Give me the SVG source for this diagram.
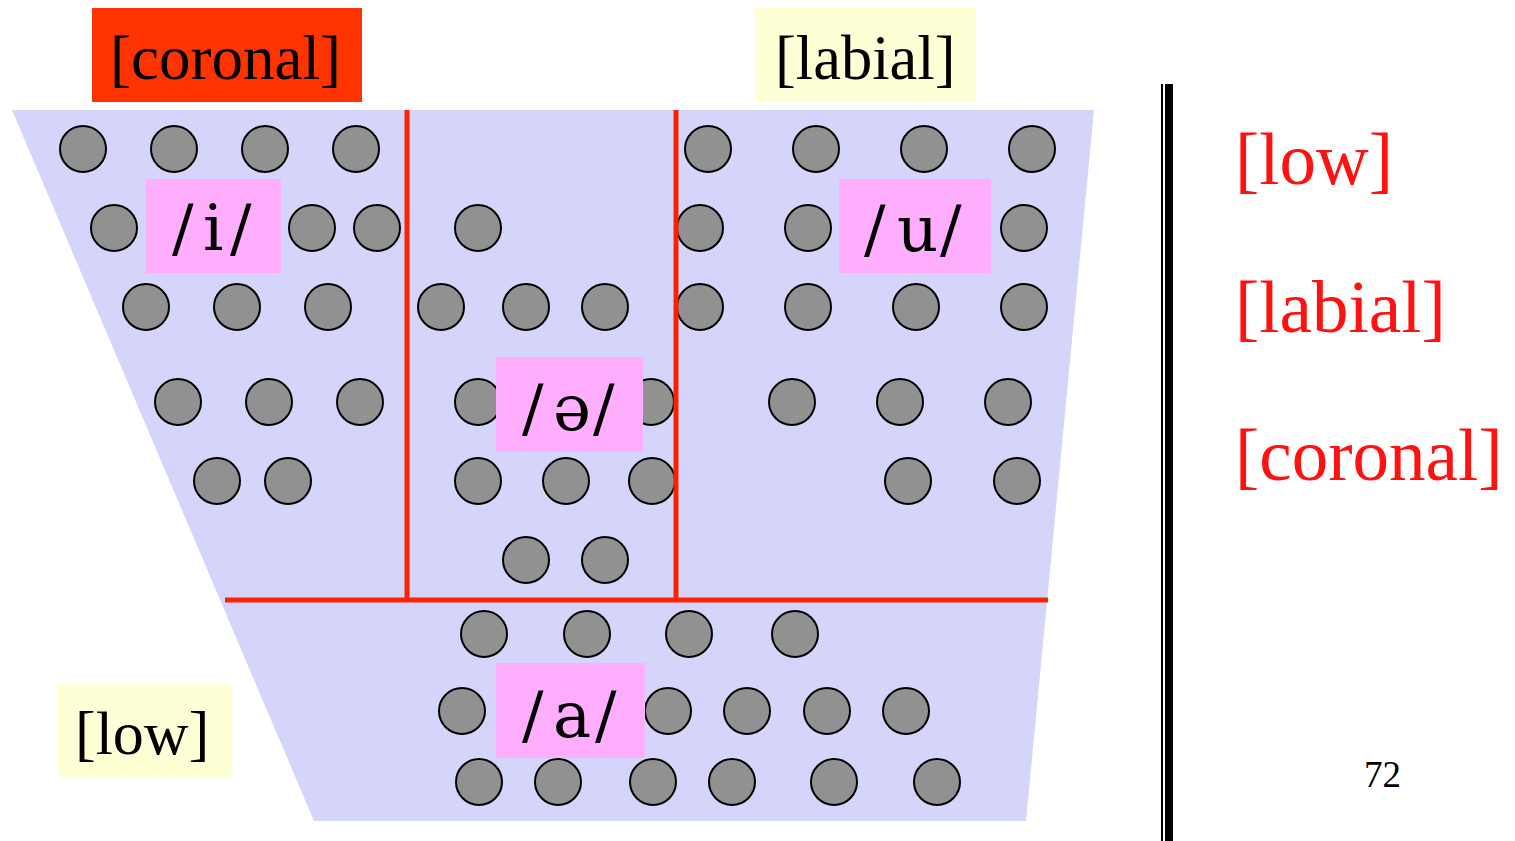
<svg xmlns="http://www.w3.org/2000/svg" width="1515" height="841" viewBox="0 0 1515 841">
<style>
.dot{fill:#919191;stroke:#000;stroke-width:2}
.lbl{font-family:"Liberation Serif","Times New Roman",serif;fill:#000}
.feat{font-family:"Liberation Serif","Times New Roman",serif;fill:#ff1111;font-size:73px}
.ipa{font-family:"DejaVu Serif","Liberation Serif",serif;font-size:64px;fill:#000}
.pink{fill:#ffaefe}
.yel{fill:#ffffd6}
.red{stroke:#ff2200;stroke-width:5;fill:none}
</style>
<rect width="1515" height="841" fill="#fff"/>
<g id="space">
<polygon points="12,110 1094,110 1026,821 314,821" fill="#d5d5fc"/>
</g>
<g id="dots">
<circle class="dot" cx="83" cy="149" r="23"/>
<circle class="dot" cx="174" cy="149" r="23"/>
<circle class="dot" cx="265" cy="149" r="23"/>
<circle class="dot" cx="356" cy="149" r="23"/>
<circle class="dot" cx="708" cy="149" r="23"/>
<circle class="dot" cx="816" cy="149" r="23"/>
<circle class="dot" cx="924" cy="149" r="23"/>
<circle class="dot" cx="1032" cy="149" r="23"/>
<circle class="dot" cx="114" cy="228" r="23"/>
<circle class="dot" cx="312" cy="228" r="23"/>
<circle class="dot" cx="377" cy="228" r="23"/>
<circle class="dot" cx="478" cy="228" r="23"/>
<circle class="dot" cx="700" cy="228" r="23"/>
<circle class="dot" cx="808" cy="228" r="23"/>
<circle class="dot" cx="1024" cy="228" r="23"/>
<circle class="dot" cx="146" cy="307" r="23"/>
<circle class="dot" cx="237" cy="307" r="23"/>
<circle class="dot" cx="328" cy="307" r="23"/>
<circle class="dot" cx="441" cy="307" r="23"/>
<circle class="dot" cx="526" cy="307" r="23"/>
<circle class="dot" cx="605" cy="307" r="23"/>
<circle class="dot" cx="700" cy="307" r="23"/>
<circle class="dot" cx="808" cy="307" r="23"/>
<circle class="dot" cx="916" cy="307" r="23"/>
<circle class="dot" cx="1024" cy="307" r="23"/>
<circle class="dot" cx="178" cy="402" r="23"/>
<circle class="dot" cx="269" cy="402" r="23"/>
<circle class="dot" cx="360" cy="402" r="23"/>
<circle class="dot" cx="478" cy="402" r="23"/>
<circle class="dot" cx="651" cy="402" r="23"/>
<circle class="dot" cx="792" cy="402" r="23"/>
<circle class="dot" cx="900" cy="402" r="23"/>
<circle class="dot" cx="1008" cy="402" r="23"/>
<circle class="dot" cx="217" cy="481" r="23"/>
<circle class="dot" cx="288" cy="481" r="23"/>
<circle class="dot" cx="478" cy="481" r="23"/>
<circle class="dot" cx="566" cy="481" r="23"/>
<circle class="dot" cx="652" cy="481" r="23"/>
<circle class="dot" cx="908" cy="481" r="23"/>
<circle class="dot" cx="1017" cy="481" r="23"/>
<circle class="dot" cx="526" cy="560" r="23"/>
<circle class="dot" cx="605" cy="560" r="23"/>
<circle class="dot" cx="484" cy="634" r="23"/>
<circle class="dot" cx="587" cy="634" r="23"/>
<circle class="dot" cx="689" cy="634" r="23"/>
<circle class="dot" cx="795" cy="634" r="23"/>
<circle class="dot" cx="462" cy="711" r="23"/>
<circle class="dot" cx="668" cy="711" r="23"/>
<circle class="dot" cx="747" cy="711" r="23"/>
<circle class="dot" cx="827" cy="711" r="23"/>
<circle class="dot" cx="906" cy="711" r="23"/>
<circle class="dot" cx="479" cy="782" r="23"/>
<circle class="dot" cx="558" cy="782" r="23"/>
<circle class="dot" cx="653" cy="782" r="23"/>
<circle class="dot" cx="732" cy="782" r="23"/>
<circle class="dot" cx="834" cy="782" r="23"/>
<circle class="dot" cx="937" cy="782" r="23"/>
</g>
<g id="dividers">
<line class="red" x1="407" y1="110" x2="407" y2="600"/>
<line class="red" x1="676" y1="110" x2="676" y2="600"/>
<line class="red" x1="225" y1="600" x2="1048" y2="600"/>
</g>
<g id="vowel-i">
<rect class="pink" x="146" y="179" width="135" height="94"/>
<text class="ipa" x="172 203 230" y="250">/i/</text>
</g>
<g id="vowel-u">
<rect class="pink" x="839" y="179" width="152" height="94"/>
<text class="ipa" x="864 897 940" y="251">/u/</text>
</g>
<g id="vowel-schwa">
<rect class="pink" x="496" y="357" width="147" height="95"/>
<text class="ipa" x="522 553 593" y="430">/ə/</text>
</g>
<g id="vowel-a">
<rect class="pink" x="496" y="663" width="149" height="95"/>
<text class="ipa" x="522 553 595" y="737">/a/</text>
</g>
<g id="label-coronal">
<rect x="92" y="8" width="270" height="94" fill="#ff3300"/>
<text class="lbl" x="110" y="79" font-size="63">[coronal]</text>
</g>
<g id="label-labial">
<rect class="yel" x="755" y="8" width="221" height="94"/>
<text class="lbl" x="775" y="79" font-size="62.5">[labial]</text>
</g>
<g id="label-low">
<rect class="yel" x="57" y="684" width="175" height="93"/>
<text class="lbl" x="75" y="754" font-size="62">[low]</text>
</g>
<g id="separator">
<rect x="1161" y="84" width="2" height="757" fill="#000"/>
<rect x="1165" y="84" width="8" height="757" fill="#000"/>
</g>
<g id="features">
<text class="feat" x="1235" y="184">[low]</text>
<text class="feat" x="1235" y="332">[labial]</text>
<text class="feat" x="1235" y="480">[coronal]</text>
</g>
<g id="page">
<text class="lbl" x="1364" y="787" font-size="37">72</text>
</g>
</svg>
